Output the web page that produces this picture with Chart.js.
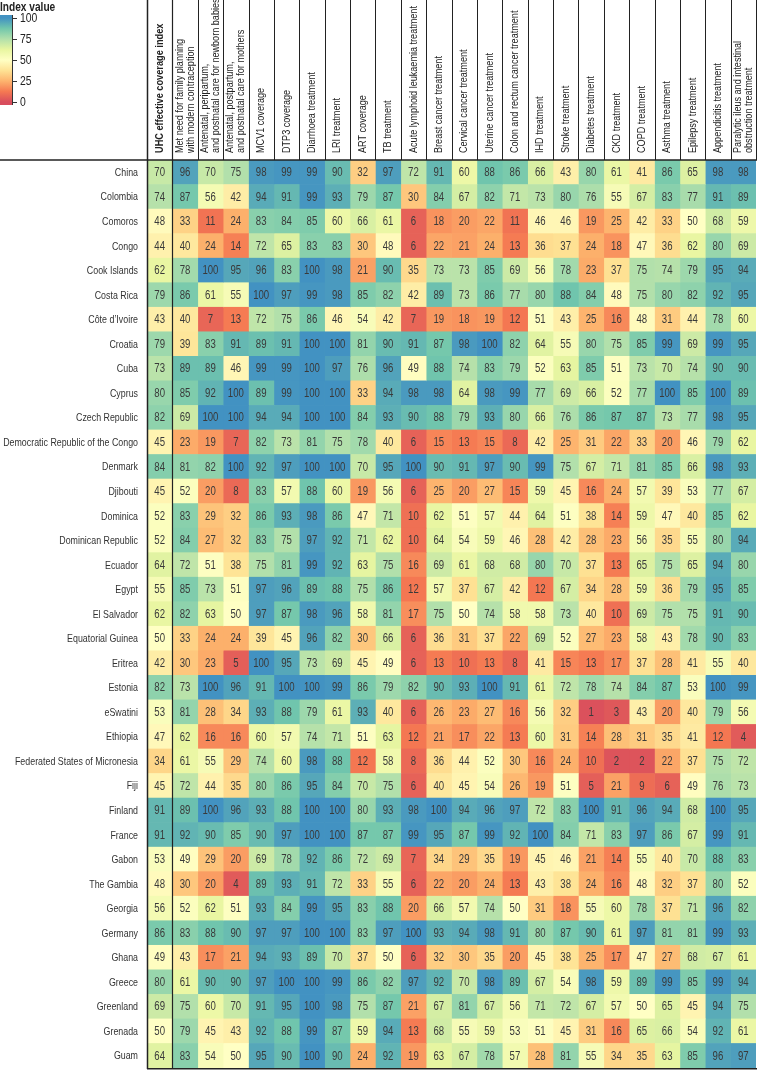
<!DOCTYPE html>
<html><head><meta charset="utf-8">
<script src="https://cdn.jsdelivr.net/npm/chart.js@4.4.1/dist/chart.umd.min.js"></script>
<style>html,body{margin:0;padding:0;background:#fff}#wrap{width:757px;height:1071px;position:relative}</style>
</head><body><div id="wrap"><canvas id="c" width="757" height="1071"></canvas></div>
<script>
// ---------- DATA ----------
const countries = ['China','Colombia','Comoros','Congo','Cook Islands','Costa Rica','Côte d\u2019Ivoire','Croatia','Cuba','Cyprus','Czech Republic','Democratic Republic of the Congo','Denmark','Djibouti','Dominica','Dominican Republic','Ecuador','Egypt','El Salvador','Equatorial Guinea','Eritrea','Estonia','eSwatini','Ethiopia','Federated States of Micronesia','Fiji','Finland','France','Gabon','The Gambia','Georgia','Germany','Ghana','Greece','Greenland','Grenada','Guam'];
const indicators = [
  ['UHC effective coverage index'],
  ['Met need for family planning','with modern contraception'],
  ['Antenatal, peripartum,','and postnatal care for newborn babies'],
  ['Antenatal, postpartum,','and postnatal care for mothers'],
  ['MCV1 coverage'],['DTP3 coverage'],['Diarrhoea treatment'],['LRI treatment'],['ART coverage'],['TB treatment'],
  ['Acute lymphoid leukaemia treatment'],['Breast cancer treatment'],['Cervical cancer treatment'],['Uterine cancer treatment'],
  ['Colon and rectum cancer treatment'],['IHD treatment'],['Stroke treatment'],['Diabetes treatment'],['CKD treatment'],
  ['COPD treatment'],['Asthma treatment'],['Epilepsy treatment'],['Appendicitis treatment'],
  ['Paralytic ileus and intestinal','obstruction treatment']
];
const legendTicks = [0,25,50,75,100];

const vChina      = [70,96,70,75,98,99,99,90,32,97,72,91,60,88,86,66,43,80,61,41,86,65,98,98];
const vColombia   = [74,87,56,42,94,91,99,93,79,87,30,84,67,82,71,73,80,76,55,67,83,77,91,89];
const vComoros    = [48,33,11,24,83,84,85,60,66,61,6,18,20,22,11,46,46,19,25,42,33,50,68,59];
const vCongo      = [44,40,24,14,72,65,83,83,30,48,6,22,21,24,13,36,37,24,18,47,36,62,80,69];
const vCook       = [62,78,100,95,96,83,100,98,21,90,35,73,73,85,69,56,78,23,37,75,74,79,95,94];
const vCostaRica  = [79,86,61,55,100,97,99,98,85,82,42,89,73,86,77,80,88,84,48,75,80,82,92,95];
const vCotedIvoire= [43,40,7,13,72,75,86,46,54,42,7,19,18,19,12,51,43,25,16,48,31,44,78,60];
const vCroatia    = [79,39,83,91,89,91,100,100,81,90,91,87,98,100,82,64,55,80,75,85,99,69,99,95];
const vCuba       = [73,89,89,46,99,99,100,97,76,96,49,88,74,83,79,52,63,85,51,73,70,74,90,90];
const vCyprus     = [80,85,92,100,89,99,100,100,33,94,98,98,64,98,99,77,69,66,52,77,100,85,100,89];
const vCzech      = [82,69,100,100,94,94,100,100,84,93,90,88,79,93,80,66,76,86,87,87,73,77,98,95];
const vDRC        = [45,23,19,7,82,73,81,75,78,40,6,15,13,15,8,42,25,31,22,33,20,46,79,62];
const vDenmark    = [84,81,82,100,92,97,100,100,70,95,100,90,91,97,90,99,75,67,71,81,85,66,98,93];
const vDjibouti   = [45,52,20,8,83,57,88,60,19,56,6,25,20,27,15,59,45,16,24,57,39,53,77,67];
const vDominica   = [52,83,29,32,86,93,98,86,47,71,10,62,51,57,44,64,51,38,14,59,47,40,85,62];
const vDomRep     = [52,84,27,32,83,75,97,92,71,62,10,64,54,59,46,28,42,28,23,56,35,55,80,94];
const vEcuador    = [64,72,51,38,75,81,99,92,63,75,16,69,61,68,68,80,70,37,13,65,75,65,94,80];
const vEgypt      = [55,85,73,51,97,96,89,88,75,86,12,57,37,67,42,12,67,34,28,59,36,79,95,85];
const vElSalvador = [62,82,63,50,97,87,98,96,58,81,17,75,50,74,58,58,73,40,10,69,75,75,91,90];
const vEqGuinea   = [50,33,24,24,39,45,96,82,30,66,6,36,31,37,22,69,52,27,23,58,43,78,90,83];
const vEritrea    = [42,30,23,5,100,95,73,69,45,49,6,13,10,13,8,41,15,13,17,37,28,41,55,40];
const vEstonia    = [82,73,100,96,91,100,100,99,86,79,82,90,93,100,91,61,72,78,74,84,87,53,100,99];
const vEswatini   = [53,81,28,34,93,88,79,61,93,40,6,26,23,27,16,56,32,1,3,43,20,40,79,56];
const vEthiopia   = [47,62,16,16,60,57,74,71,51,63,12,21,17,22,13,60,31,14,28,31,35,41,12,4];
const vMicronesia = [34,61,55,29,74,60,98,88,12,58,8,36,44,52,30,16,24,10,2,2,22,37,75,72];
const vFiji       = [45,72,44,35,80,86,95,84,70,75,6,40,45,54,26,19,51,5,21,9,6,49,76,73];
const vFinland    = [91,89,100,96,93,88,100,100,80,93,98,100,94,96,97,72,83,100,91,96,94,68,100,95];
const vFrance     = [91,92,90,85,90,97,100,100,87,87,99,95,87,99,92,100,84,71,83,97,86,67,99,91];
const vGabon      = [53,49,29,20,69,78,92,86,72,69,7,34,29,35,19,45,46,21,14,55,40,70,88,83];
const vGambia     = [48,30,20,4,89,93,91,72,33,55,6,22,20,24,13,43,38,24,16,48,32,37,80,52];
const vGeorgia    = [56,52,62,51,93,84,99,95,83,88,20,66,57,74,50,31,18,55,60,78,37,71,96,82];
const vGermany    = [86,83,88,90,97,97,100,100,83,97,100,93,94,98,91,80,87,90,61,97,81,81,99,93];
const vGhana      = [49,43,17,21,94,93,89,70,37,50,6,32,30,35,20,45,38,25,17,47,27,68,67,61];
const vGreece     = [80,61,90,90,97,100,100,99,86,82,97,92,70,98,89,67,54,98,59,89,99,85,99,94];
const vGreenland  = [69,75,60,70,91,95,100,98,75,87,21,67,81,67,56,71,72,67,57,50,65,45,94,75];
const vGrenada    = [50,79,45,43,92,88,99,87,59,94,13,68,55,59,53,51,45,31,16,65,66,54,92,61];
const vGuam       = [64,83,54,50,95,90,100,90,24,92,19,63,67,78,57,28,81,55,34,35,63,85,96,97];

const values = [vChina,vColombia,vComoros,vCongo,vCook,vCostaRica,vCotedIvoire,vCroatia,vCuba,vCyprus,vCzech,vDRC,vDenmark,vDjibouti,vDominica,vDomRep,vEcuador,vEgypt,vElSalvador,vEqGuinea,vEritrea,vEstonia,vEswatini,vEthiopia,vMicronesia,vFiji,vFinland,vFrance,vGabon,vGambia,vGeorgia,vGermany,vGhana,vGreece,vGreenland,vGrenada,vGuam];

// ---------- STYLE ----------
const FONT = "'Liberation Sans',Arial,sans-serif";
const SX = 0.8; // horizontal compression to mimic a narrow face
const stops = [[0,'#d53e4f'],[12.5,'#f46d43'],[25,'#fdae61'],[37.5,'#fee08b'],[50,'#ffffbf'],[62.5,'#e6f598'],[75,'#abdda4'],[87.5,'#66c2a5'],[100,'#3288bd']];
const ALPHA = 0.92;
function hex(h){return [parseInt(h.slice(1,3),16),parseInt(h.slice(3,5),16),parseInt(h.slice(5,7),16)];}
function colorFor(v){
  v=Math.max(0,Math.min(100,v));
  let i=0; while(i<stops.length-2 && v>stops[i+1][0]) i++;
  const [a,ca]=stops[i],[b,cb]=stops[i+1];
  const t=(v-a)/(b-a), A=hex(ca), B=hex(cb);
  const c=A.map((x,k)=>x+(B[k]-x)*t).map(x=>Math.round(255*(1-ALPHA)+x*ALPHA));
  return `rgb(${c[0]},${c[1]},${c[2]})`;
}
function txt(ctx, s, x, y, sx){ ctx.save(); ctx.translate(x,y); ctx.scale(sx,1); ctx.fillText(s,0,0); ctx.restore(); }

const datasets = indicators.map((lab,c)=>({
  label: lab.join(' '),
  data: values.map(()=>[c,c+1]),
  backgroundColor: ctx => colorFor(values[ctx.dataIndex][c]),
  borderWidth: 0,
  barPercentage: 1,
  categoryPercentage: 1,
  grouped: false
}));

const cellText = {
  id:'cellText',
  afterDatasetsDraw(chart){
    const ctx=chart.ctx; ctx.save();
    ctx.font = `12px ${FONT}`; ctx.fillStyle='#3a3a3a'; ctx.textAlign='center'; ctx.textBaseline='middle';
    chart.data.datasets.forEach((ds,c)=>{
      chart.getDatasetMeta(c).data.forEach((bar,i)=>{
        const p = bar.getProps(['x','y','base'],true);
        txt(ctx, String(values[i][c]), (p.x+p.base)/2, p.y+0.5, 0.8);
      });
    });
    // row labels, positioned by the category scale
    const ys = chart.scales.y;
    ctx.font = `11.5px ${FONT}`; ctx.textAlign='right'; ctx.fillStyle='#333';
    countries.forEach((name,i)=>{ txt(ctx, name, ys.right-9, ys.getPixelForValue(i)+0.5, 0.77); });
    ctx.restore();
  }
};

const frame = {
  id:'frame',
  afterDraw(chart){
    const ctx=chart.ctx, xs=chart.scales.x, a=chart.chartArea;
    ctx.save();
    ctx.strokeStyle='#222';
    for(let c=0;c<=indicators.length;c++){
      const x=Math.round(xs.getPixelForValue(c))+0.5;
      ctx.lineWidth = 1;
      ctx.beginPath(); ctx.moveTo(x,0); ctx.lineTo(x,a.top); ctx.stroke();
    }
    [0,1].forEach(c=>{
      const x=Math.round(xs.getPixelForValue(c))+0.5;
      ctx.lineWidth = c===0?1.5:1.2;
      ctx.beginPath(); ctx.moveTo(x,0); ctx.lineTo(x,a.bottom+1); ctx.stroke();
    });
    ctx.lineWidth=1.5;
    ctx.beginPath(); ctx.moveTo(0,a.top); ctx.lineTo(chart.width,a.top); ctx.stroke();
    ctx.beginPath(); ctx.moveTo(a.left,a.bottom+0.75); ctx.lineTo(chart.width,a.bottom+0.75); ctx.stroke();
    // header labels
    ctx.fillStyle='#222'; ctx.textAlign='left'; ctx.textBaseline='middle';
    indicators.forEach((lines,c)=>{
      const cx = xs.getPixelForValue(c+0.5);
      ctx.save(); ctx.translate(cx, a.top-7); ctx.rotate(-Math.PI/2);
      ctx.font = (c===0?'bold ':'') + `11.5px ${FONT}`;
      lines.forEach((ln,k)=>{ txt(ctx, ln, 0, (k-(lines.length-1)/2)*11, c===0?0.8:0.79); });
      ctx.restore();
    });
    // colour legend
    const y0=102, y100=18, bx=0, bw=12;
    const g=ctx.createLinearGradient(0,y0,0,y100);
    stops.forEach(([v])=>g.addColorStop(v/100,colorFor(v)));
    ctx.fillStyle=colorFor(0); ctx.fillRect(bx,y0,bw,3);
    ctx.fillStyle=colorFor(100); ctx.fillRect(bx,15,bw,3);
    ctx.fillStyle=g; ctx.fillRect(bx,y100,bw,y0-y100);
    ctx.lineWidth=1; ctx.strokeStyle='#333';
    ctx.beginPath(); ctx.moveTo(bx+bw+0.5,15); ctx.lineTo(bx+bw+0.5,105); ctx.stroke();
    ctx.font=`13px ${FONT}`; ctx.fillStyle='#222'; ctx.textBaseline='middle'; ctx.textAlign='left';
    legendTicks.forEach(t=>{
      const y=Math.round(y0+(y100-y0)*t/100)+0.5;
      ctx.beginPath(); ctx.moveTo(bx+bw,y); ctx.lineTo(bx+bw+5,y); ctx.stroke();
      txt(ctx, String(t), bx+bw+8, y, SX);
    });
    ctx.font=`bold 13px ${FONT}`; ctx.textBaseline='alphabetic';
    txt(ctx, 'Index value', 0, 11, 0.78);
    ctx.restore();
  }
};

new Chart(document.getElementById('c'), {
  type:'bar',
  data:{ labels: countries, datasets },
  options:{
    indexAxis:'y',
    responsive:false,
    animation:false,
    devicePixelRatio:1,
    layout:{ padding:{ top:160, bottom:3, right:1, left:0 } },
    plugins:{ legend:{display:false}, tooltip:{enabled:false} },
    scales:{
      x:{ type:'linear', min:0, max:indicators.length, display:false },
      y:{ type:'category', offset:true,
          grid:{display:false}, border:{display:false},
          ticks:{ display:false },
          afterFit(s){ s.width = 147; } }
    }
  },
  plugins:[cellText, frame]
});
</script></body></html>
